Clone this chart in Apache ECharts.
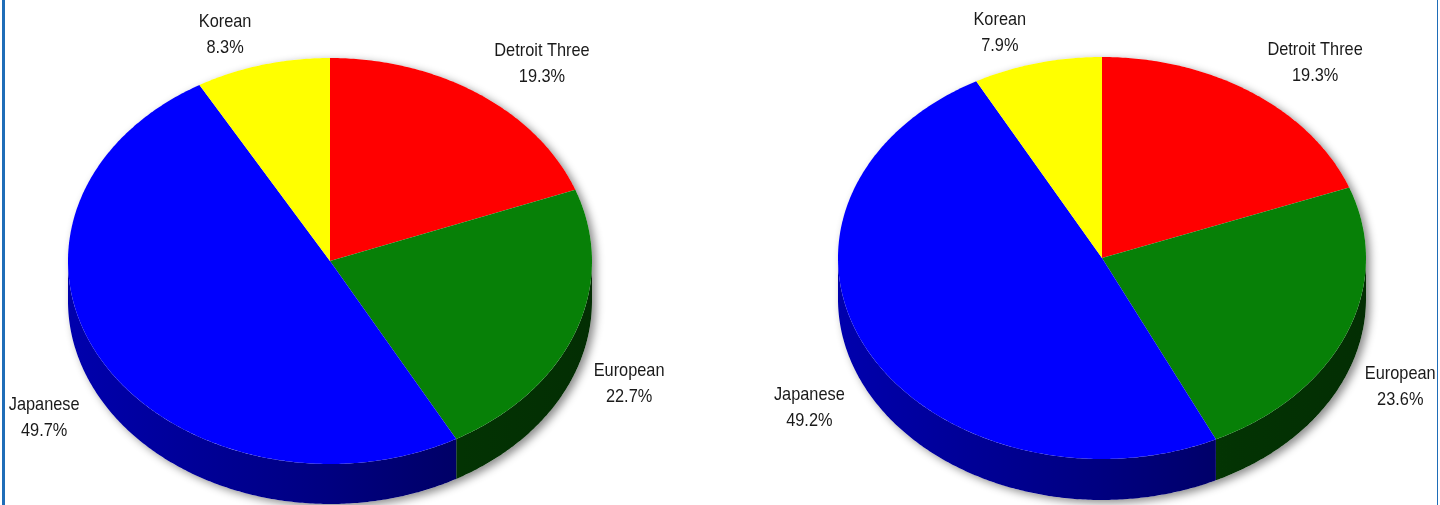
<!DOCTYPE html>
<html>
<head>
<meta charset="utf-8">
<script src="https://cdn.jsdelivr.net/npm/echarts@6/dist/echarts.min.js"></script>
<style>
    html, body {margin: 0; padding: 0; background: #fff;}
    #stage {position: relative; width: 1440px; height: 505px; overflow: hidden;}
    #leftPie {position: absolute; left: 0; top: 0; width: 667px; height: 505px;}
    #rightPie {position: absolute; left: 667px; top: 0; width: 773px; height: 505px;}
    .edge {position: absolute; top: 0; height: 505px; background: #1f6db8;}
</style>
</head>
<body>
<div id="stage">
    <div id="leftPie"></div>
    <div id="rightPie"></div>
    <div class="edge" style="left: 2px; width: 3px;"></div>
    <div class="edge" style="left: 1437px; width: 1px;"></div>
</div>
<script>
// makers, clockwise from 12 o'clock
const pieNames = ['Detroit Three', 'European', 'Japanese', 'Korean'];
const pieColors = ['#ff0000', '#078007', '#0000ff', '#ffff00'];
const leftShares = [19.3, 22.7, 49.7, 8.3];
const rightShares = [19.3, 23.6, 49.2, 7.9];

const labelFont = "19px 'Liberation Sans', Arial, sans-serif";

// darken a #rrggbb colour by factor k
shade = (hex, k) => {
    const n = parseInt(hex.slice(1), 16);
    const r = Math.round(((n >> 16) & 255) * k);
    const g = Math.round(((n >> 8) & 255) * k);
    const b = Math.round((n & 255) * k);
    return `rgb(${r},${g},${b})`;
}

generatePieOption = (shares, layout) => {
    const total = shares.reduce((a, b) => a + b, 0);
    const starts = [];
    let acc = 0;
    shares.forEach(v => { starts.push(acc); acc += v; });
    const {cx, cy, rx, ry, depth} = layout;
    const pt = (a, dy) => [cx + rx * Math.sin(a), cy - ry * Math.cos(a) + dy];
    const arc = (a0, a1, dy) => {
        const pts = [];
        const n = Math.max(2, Math.ceil((a1 - a0) / 0.01));
        for (let k = 0; k <= n; k++) pts.push(pt(a0 + (a1 - a0) * k / n, dy));
        return pts;
    };

    const renderItem = (params, api) => {
        const i = params.dataIndex;
        const value = api.value(0);
        const a0 = starts[i] / total * Math.PI * 2;
        const a1 = (starts[i] + value) / total * Math.PI * 2;
        const children = [];

        if (i === 0) {
            // whole silhouette, only for the soft drop shadow
            const outline = arc(-Math.PI / 2, Math.PI / 2, 0).concat(arc(Math.PI / 2, Math.PI * 1.5, depth));
            children.push({
                type: 'polygon', z2: 0, silent: true,
                shape: {points: outline},
                style: {fill: '#ffffff', shadowBlur: 8, shadowColor: 'rgba(0,0,0,0.45)', shadowOffsetX: 4, shadowOffsetY: 3}
            });
        }

        // side wall, front half only
        const lo = Math.max(a0, Math.PI / 2);
        const hi = Math.min(a1, Math.PI * 1.5);
        if (lo < hi) {
            const base = pieColors[i];
            const wall = arc(lo, hi, 0).concat(arc(lo, hi, depth).reverse());
            children.push({
                type: 'polygon', z2: 1,
                shape: {points: wall},
                style: {
                    fill: {
                        type: 'linear', global: true,
                        x: cx - rx, y: 0, x2: cx + rx, y2: 0,
                        colorStops: [
                            {offset: 0, color: shade(base, 0.68)},
                            {offset: 0.5, color: shade(base, 0.5)},
                            {offset: 0.75, color: shade(base, 0.4)},
                            {offset: 1, color: shade(base, 0.36)}
                        ]
                    }
                }
            });
        }

        // top face
        children.push({
            type: 'polygon', z2: 2,
            shape: {points: [[cx, cy]].concat(arc(a0, a1, 0))},
            style: {fill: pieColors[i]}
        });

        // label outside the slice, inner corner next to the rim
        const mid = (a0 + a1) / 2;
        const edge = pt(mid, 0);
        const right = Math.sin(mid) >= 0;
        const upper = Math.cos(mid) > 0;
        const vside = upper ? 'bottom' : 'top';
        let gapX = right ? (upper ? 15 : 18) : (upper ? -11 : -22);
        let posY = upper ? edge[1] - 4.5 : edge[1] + depth - 12 + (right ? -1.5 : 3.5);
        const block = echarts.format.getTextRect
            ? echarts.format.getTextRect(pieNames[i], labelFont).width
            : pieNames[i].length * 9;
        children.push({
            type: 'text', z2: 3,
            x: edge[0] + gapX + (right ? 1 : -1) * block * 0.86 / 2,
            y: posY,
            scaleX: 0.86,
            style: {
                text: pieNames[i] + '\n' + (value / total * 100).toFixed(1) + '%',
                font: labelFont,
                fill: '#1a1a1a',
                lineHeight: 26,
                align: 'center',
                textAlign: 'center',
                verticalAlign: vside,
                textVerticalAlign: vside
            }
        });
        return {type: 'group', children: children};
    };

    return {
        animation: false,
        series: [{
            type: 'custom',
            coordinateSystem: 'none',
            renderItem: renderItem,
            data: shares.map((v, i) => [v, i])
        }]
    };
}

const leftChart = echarts.init(document.getElementById('leftPie'));
leftChart.setOption(generatePieOption(leftShares, {cx: 330, cy: 261, rx: 262, ry: 203, depth: 40}));
const rightChart = echarts.init(document.getElementById('rightPie'));
rightChart.setOption(generatePieOption(rightShares, {cx: 435, cy: 258, rx: 264, ry: 201, depth: 41}));
</script>
</body>
</html>
